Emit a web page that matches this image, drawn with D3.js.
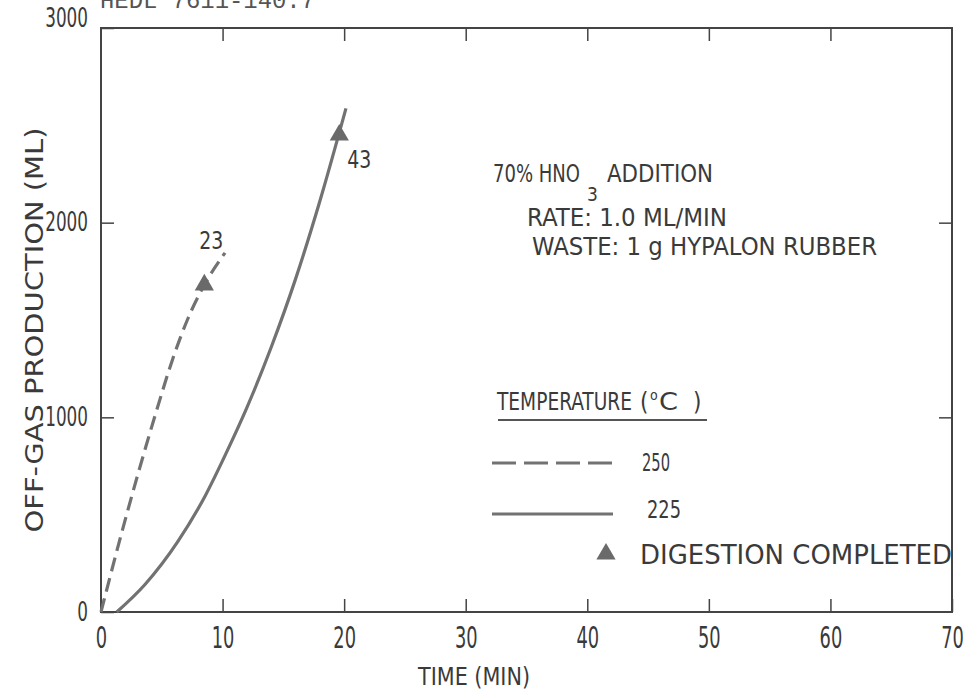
<!DOCTYPE html>
<html><head><meta charset="utf-8">
<script src="https://cdn.jsdelivr.net/npm/d3@7"></script>
<style>
body{margin:0;background:#fff}
svg{display:block}
text{font-family:"Liberation Sans Narrow","DejaVu Sans Condensed","Arial Narrow",sans-serif;fill:#3a3a3a}
</style>
</head><body>
<svg id="c" width="969" height="694"></svg>
<script>
// ---- data ----
const xTicks = [0, 10, 20, 30, 40, 50, 60, 70];
const yTicks = [0, 1000, 2000, 3000];
const innerXTicks = [10, 20, 30, 40, 50, 60];
const innerYTicks = [1000, 2000];
// 250 C (dashed)
const t250 = [0, 1.5, 3.0, 4.5, 5.9, 7.1, 8.5, 10.2];
const v250 = [0, 360, 700, 1020, 1300, 1500, 1680, 1845];
// 225 C (solid)
const t225 = [1.3, 3.6, 6.3, 8.6, 10.4, 12.0, 14.0, 16.0, 18.0, 20.15];
const v225 = [0, 140, 360, 600, 830, 1050, 1360, 1710, 2110, 2587];
// digestion completed markers
const doneT = [8.5, 19.6];
const doneV = [1680, 2450];
const doneLabel = ["23", "43"];
const seriesLabels = ["250", "225"];

// ---- layout ----
const svg = d3.select("#c");
const x = d3.scaleLinear().domain([0, 70]).range([101, 952]);
const y = d3.scaleLinear().domain([0, 3000]).range([612, 28]);
const ink = "#3a3a3a", lineCol = "#727272";

// header (cut off at top)
svg.append("text").attr("x", 100).attr("y", 8)
  .attr("textLength", 215).attr("lengthAdjust", "spacingAndGlyphs")
  .style("font-family", "'Liberation Mono','DejaVu Sans Mono',monospace")
  .style("font-size", "24px").style("fill", "#555")
  .text("HEDL 7611-140.7");

// axes
const gB = svg.append("g").attr("transform", `translate(0,${y(0)})`)
  .call(d3.axisBottom(x).tickValues(xTicks).tickSizeInner(-13).tickSizeOuter(0).tickPadding(15).tickFormat(d3.format("d")));
gB.selectAll("text").style("font-size", "30px").attr("transform", "scale(0.66,1)");
const gL = svg.append("g").attr("transform", `translate(${x(0)},0)`)
  .call(d3.axisLeft(y).tickValues(yTicks).tickSizeInner(-13).tickSizeOuter(0).tickPadding(13).tickFormat(d3.format("d")));
gL.selectAll("text").style("font-size", "26px").attr("x", -13 / 0.72).attr("transform", "scale(0.72,1)");
gL.selectAll(".tick").filter(d => d === 3000).select("text").attr("y", -10);
const gT = svg.append("g").attr("transform", `translate(0,${y(3000)})`)
  .call(d3.axisTop(x).tickValues(innerXTicks).tickSizeInner(-13).tickSizeOuter(0).tickFormat(""));
const gR = svg.append("g").attr("transform", `translate(${x(70)},0)`)
  .call(d3.axisRight(y).tickValues(innerYTicks).tickSizeInner(-13).tickSizeOuter(0).tickFormat(""));
[gB, gL, gT, gR].forEach(g => {
  g.select(".domain").remove();
  g.selectAll("line").attr("stroke", "#444").attr("stroke-width", 1.5);
  g.selectAll("text").attr("fill", ink).style("font-family", "'Liberation Sans Narrow','DejaVu Sans Condensed',sans-serif");
});
// frame
svg.append("rect").attr("x", x(0)).attr("y", y(3000))
  .attr("width", x(70) - x(0)).attr("height", y(0) - y(3000))
  .attr("fill", "none").attr("stroke", "#444").attr("stroke-width", 2);

// axis titles
svg.append("text").attr("x", 418).attr("y", 685)
  .attr("textLength", 112).attr("lengthAdjust", "spacingAndGlyphs")
  .style("font-size", "24px").text("TIME (MIN)");
svg.append("text").attr("transform", "translate(43,330) rotate(-90)")
  .attr("text-anchor", "middle").attr("textLength", 405).attr("lengthAdjust", "spacingAndGlyphs")
  .style("font-size", "25px").text("OFF-GAS PRODUCTION (ML)");

// curves
const line = d3.line().x(d => x(d[0])).y(d => y(d[1])).curve(d3.curveMonotoneX);
const d250 = t250.map((t, i) => [t, v250[i]]);
const d225 = t225.map((t, i) => [t, v225[i]]);
svg.append("path").attr("d", line(d250)).attr("fill", "none")
  .attr("stroke", lineCol).attr("stroke-width", 3.2).attr("stroke-dasharray", "14,7");
svg.append("path").attr("d", line(d225)).attr("fill", "none")
  .attr("stroke", lineCol).attr("stroke-width", 3.2);

// markers
const tri = d3.symbol().type(d3.symbolTriangle).size(160);
const labOff = [[7, -36], [20, 33]];
doneT.forEach((t, i) => {
  svg.append("path").attr("d", tri()).attr("transform", `translate(${x(t)},${y(doneV[i])})`)
    .attr("fill", "#6a6a6a");
  svg.append("text").attr("x", x(t) + labOff[i][0]).attr("y", y(doneV[i]) + labOff[i][1])
    .attr("text-anchor", "middle").attr("textLength", 24).attr("lengthAdjust", "spacingAndGlyphs")
    .style("font-size", "24px").text(doneLabel[i]);
});

// annotation
const ann = svg.append("g").style("font-size", "25px");
const hno = ann.append("text").attr("y", 182);
hno.append("tspan").attr("x", 493).attr("textLength", 87).attr("lengthAdjust", "spacingAndGlyphs").text("70% HNO");
hno.append("tspan").attr("x", 587).attr("y", 201).style("font-size", "19px").text("3");
hno.append("tspan").attr("x", 607).attr("y", 182).attr("textLength", 106).attr("lengthAdjust", "spacingAndGlyphs").text("ADDITION");
ann.append("text").attr("x", 527).attr("y", 226).attr("textLength", 200).attr("lengthAdjust", "spacingAndGlyphs").text("RATE:  1.0 ML/MIN");
ann.append("text").attr("x", 532).attr("y", 255).attr("textLength", 345).attr("lengthAdjust", "spacingAndGlyphs").text("WASTE:  1 g HYPALON RUBBER");

// legend
const lg = svg.append("g").style("font-size", "24px");
const temp = lg.append("text").attr("y", 410);
temp.append("tspan").attr("x", 497).attr("textLength", 135).attr("lengthAdjust", "spacingAndGlyphs").text("TEMPERATURE");
temp.append("tspan").attr("x", 640).text("(");
temp.append("tspan").attr("x", 650).attr("y", 400).style("font-size", "14px").text("o");
temp.append("tspan").attr("x", 659).attr("y", 410).attr("textLength", 19).attr("lengthAdjust", "spacingAndGlyphs").text("C");
temp.append("tspan").attr("x", 693).text(")");
lg.append("line").attr("x1", 498).attr("x2", 707).attr("y1", 420).attr("y2", 420).attr("stroke", "#555").attr("stroke-width", 2);
lg.append("line").attr("x1", 492).attr("x2", 613).attr("y1", 463).attr("y2", 463)
  .attr("stroke", lineCol).attr("stroke-width", 3.2).attr("stroke-dasharray", "24,8");
lg.append("text").attr("x", 642).attr("y", 471).attr("textLength", 28).attr("lengthAdjust", "spacingAndGlyphs").text(seriesLabels[0]);
lg.append("line").attr("x1", 492).attr("x2", 613).attr("y1", 514).attr("y2", 514)
  .attr("stroke", lineCol).attr("stroke-width", 3.2);
lg.append("text").attr("x", 647).attr("y", 518).attr("textLength", 34).attr("lengthAdjust", "spacingAndGlyphs").text(seriesLabels[1]);
lg.append("path").attr("d", tri()).attr("transform", "translate(606,554)").attr("fill", "#6a6a6a");
lg.append("text").attr("x", 640).attr("y", 564).attr("textLength", 312).attr("lengthAdjust", "spacingAndGlyphs")
  .style("font-size", "26px").text("DIGESTION COMPLETED");
</script>
</body></html>
